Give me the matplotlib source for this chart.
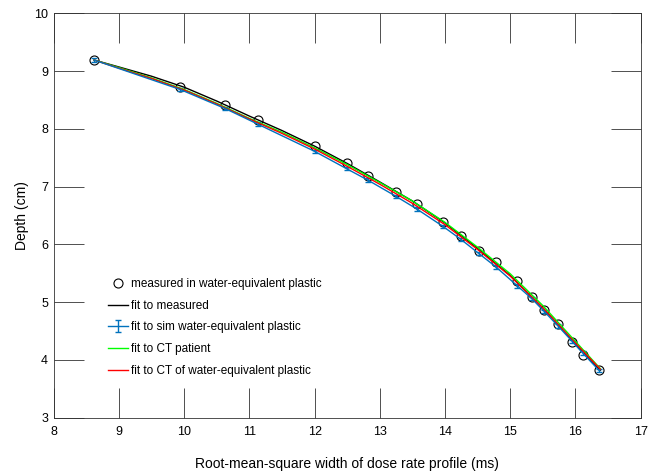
import matplotlib
matplotlib.use('Agg')
import matplotlib.pyplot as plt
import numpy as np

plt.rcParams['font.family'] = ['Liberation Sans', 'DejaVu Sans']

# measured points (rms width in ms, depth in cm)
x_meas = [8.62, 9.94, 10.63, 11.13, 12.00, 12.49, 12.82, 13.25, 13.57, 13.97,
          14.25, 14.52, 14.78, 15.11, 15.33, 15.52, 15.73, 15.95, 16.11, 16.36]
y_meas = [9.19, 8.73, 8.41, 8.16, 7.71, 7.40, 7.18, 6.91, 6.70, 6.38,
          6.14, 5.89, 5.69, 5.37, 5.09, 4.86, 4.62, 4.31, 4.08, 3.82]

# simulated water-equivalent plastic
y_sim = [9.19, 8.68, 8.35, 8.08, 7.61, 7.31, 7.11, 6.83, 6.61, 6.31,
         6.08, 5.84, 5.61, 5.28, 5.06, 4.84, 4.59, 4.32, 4.12, 3.82]
err_sim = [0.03] * len(y_sim)

# fitted curves
fit_x = [8.62, 9.0, 9.5, 10.0, 10.5, 11.0, 11.5, 12.0, 12.5, 13.0, 13.5,
         14.0, 14.5, 15.0, 15.5, 16.0, 16.38]
fit_meas = [9.19, 9.07, 8.91, 8.72, 8.48, 8.22, 7.97, 7.70, 7.40, 7.08, 6.75,
            6.37, 5.93, 5.46, 4.90, 4.28, 3.82]
fit_ct_patient = [9.19, 9.06, 8.88, 8.68, 8.44, 8.18, 7.94, 7.67, 7.38, 7.07, 6.75,
                  6.38, 5.95, 5.49, 4.94, 4.32, 3.85]
fit_ct_plastic = [9.19, 9.05, 8.87, 8.67, 8.43, 8.17, 7.92, 7.65, 7.35, 7.04, 6.71,
                  6.34, 5.91, 5.45, 4.90, 4.29, 3.84]

fig = plt.figure(figsize=(6.59, 4.73), dpi=100)
ax = fig.add_axes([0.0815, 0.117, 0.8907, 0.855])

h_meas, = ax.plot(x_meas, y_meas, 'o', mfc='none', mec='black', ms=6.5, mew=0.8,
                  label='measured in water-equivalent plastic')
h_fit, = ax.plot(fit_x, fit_meas, color='black', lw=1.0, label='fit to measured')
h_sim = ax.errorbar(x_meas, y_sim, yerr=err_sim, color='#0072BD', lw=1.0,
                    capsize=2, elinewidth=1.0, label='fit to sim water-equivalent plastic')
h_pat, = ax.plot(fit_x, fit_ct_patient, color='#00ff00', lw=1.0, label='fit to CT patient')
h_pla, = ax.plot(fit_x, fit_ct_plastic, color='#ff0000', lw=1.0,
                 label='fit to CT of water-equivalent plastic')

ax.set_xlim(8, 17)
ax.set_ylim(3, 10)
ax.set_xticks(range(8, 18))
ax.set_yticks(range(3, 11))
ax.tick_params(direction='in', length=21.6, width=0.6, color='#333333',
               top=True, right=True, labelsize=9)
ax.tick_params(axis='x', pad=6)
ax.tick_params(axis='y', pad=4)
for s in ax.spines.values():
    s.set_linewidth(0.6)
    s.set_color('#333333')

ax.set_xlabel('Root-mean-square width of dose rate profile (ms)', fontsize=10, labelpad=14)
ax.set_ylabel('Depth (cm)', fontsize=10, labelpad=4)

ax.legend(handles=[h_meas, h_fit, h_sim, h_pat, h_pla], loc='upper left',
          bbox_to_anchor=(0.085, 0.357), frameon=False, fontsize=8.5,
          handlelength=1.7, handletextpad=0.2, labelspacing=0.82,
          borderaxespad=0)

plt.savefig('out.png', dpi=100)
plt.close()
